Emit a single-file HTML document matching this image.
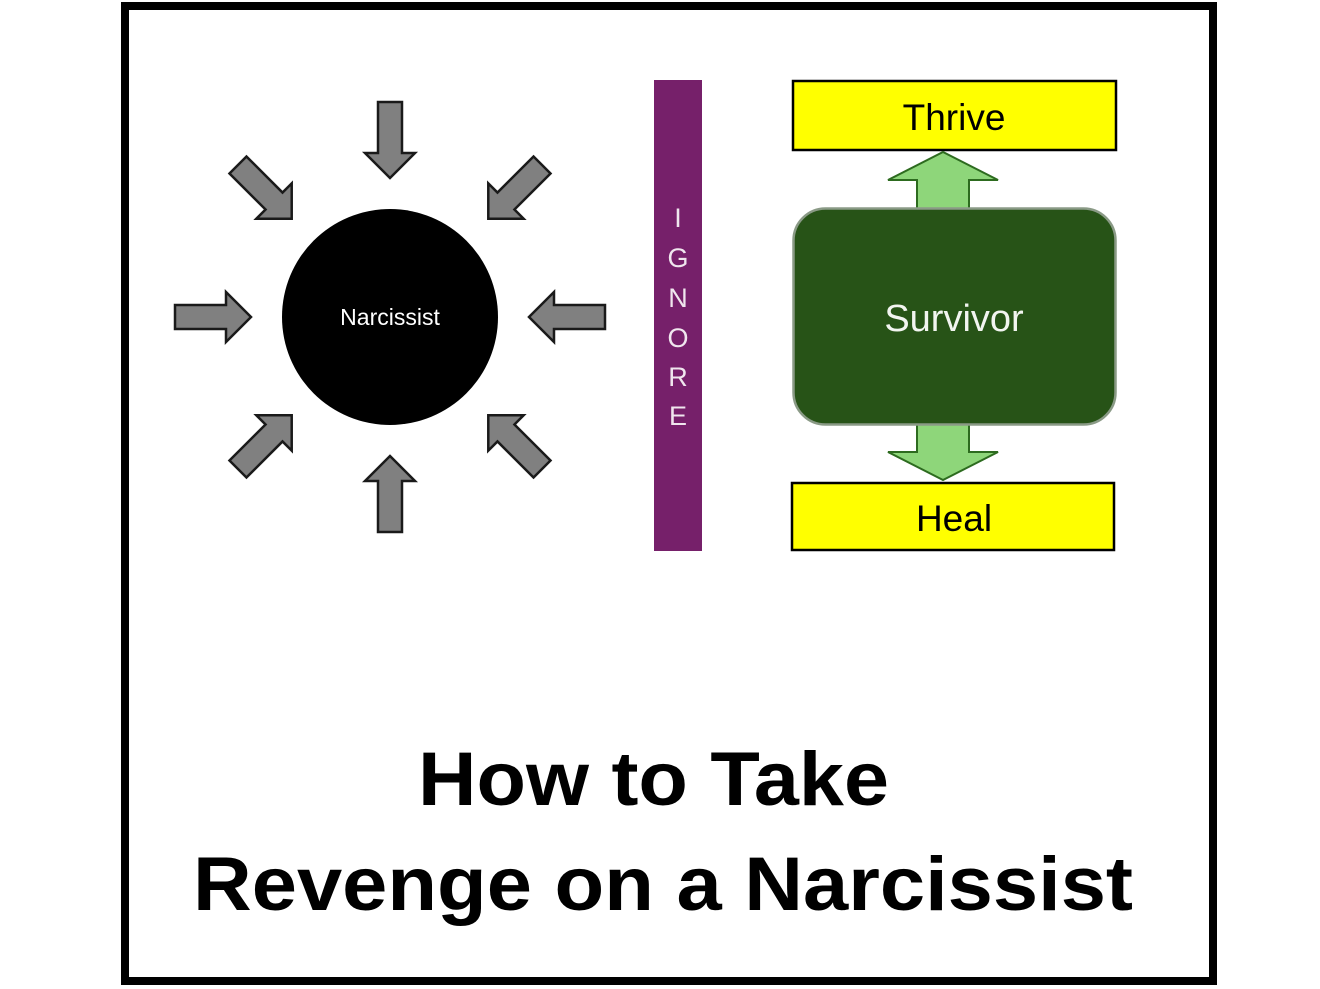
<!DOCTYPE html>
<html><head><meta charset="utf-8"><style>html,body{margin:0;padding:0;background:#fff}svg{display:block}</style></head>
<body>
<svg width="1320" height="989" viewBox="0 0 1320 989" xmlns="http://www.w3.org/2000/svg">
<rect x="0" y="0" width="1320" height="989" fill="#fff"/>
<rect x="125" y="6" width="1088" height="975" fill="none" stroke="#000" stroke-width="8"/>
<defs>
<polygon id="ar" points="-215,-12 -164,-12 -164,-25 -139,0 -164,25 -164,12 -215,12" fill="#808080" stroke="#1a1a1a" stroke-width="2.5" stroke-linejoin="miter"/>
</defs>
<g transform="translate(390,317)">
<use href="#ar" transform="rotate(0)"/>
<use href="#ar" transform="rotate(45)"/>
<use href="#ar" transform="rotate(90)"/>
<use href="#ar" transform="rotate(135)"/>
<use href="#ar" transform="rotate(180)"/>
<use href="#ar" transform="rotate(225)"/>
<use href="#ar" transform="rotate(270)"/>
<use href="#ar" transform="rotate(315)"/>
<circle cx="0" cy="0" r="108" fill="#000"/>
<text x="0" y="8" text-anchor="middle" font-family="Liberation Sans, sans-serif" font-size="23" fill="#fff">Narcissist</text>
</g>
<rect x="654" y="80" width="48" height="471" fill="#76206a"/>
<g font-family="Liberation Sans, sans-serif" font-size="27" fill="#f0e6ee" text-anchor="middle">
<text x="678" y="227">I</text>
<text x="678" y="267">G</text>
<text x="678" y="307">N</text>
<text x="678" y="347">O</text>
<text x="678" y="386">R</text>
<text x="678" y="425">E</text>
</g>
<rect x="793" y="81" width="323" height="69" fill="#ffff00" stroke="#000" stroke-width="2.5"/>
<text x="954" y="130" text-anchor="middle" font-family="Liberation Sans, sans-serif" font-size="37" fill="#000">Thrive</text>
<rect x="792" y="483" width="322" height="67" fill="#ffff00" stroke="#000" stroke-width="2.5"/>
<text x="954" y="531" text-anchor="middle" font-family="Liberation Sans, sans-serif" font-size="37" fill="#000">Heal</text>
<polygon points="917,209 917,180 888,180 943,152 998,180 969,180 969,209" fill="#8ed67a" stroke="#2d6b1f" stroke-width="2"/>
<polygon points="917,424 917,452 888,452 943,480 998,452 969,452 969,424" fill="#8ed67a" stroke="#2d6b1f" stroke-width="2"/>
<rect x="793.5" y="208.5" width="322" height="216" rx="32" fill="#275317" stroke="#8a9a86" stroke-width="2.5"/>
<text x="954" y="331" text-anchor="middle" font-family="Liberation Sans, sans-serif" font-size="38" fill="#f2f5f0">Survivor</text>
<g font-family="Liberation Sans, sans-serif" font-weight="bold" font-size="76" fill="#000">
<text x="418" y="805" textLength="471" lengthAdjust="spacingAndGlyphs">How to Take</text>
<text x="193" y="910" textLength="940" lengthAdjust="spacingAndGlyphs">Revenge on a Narcissist</text>
</g>
</svg>
</body></html>
